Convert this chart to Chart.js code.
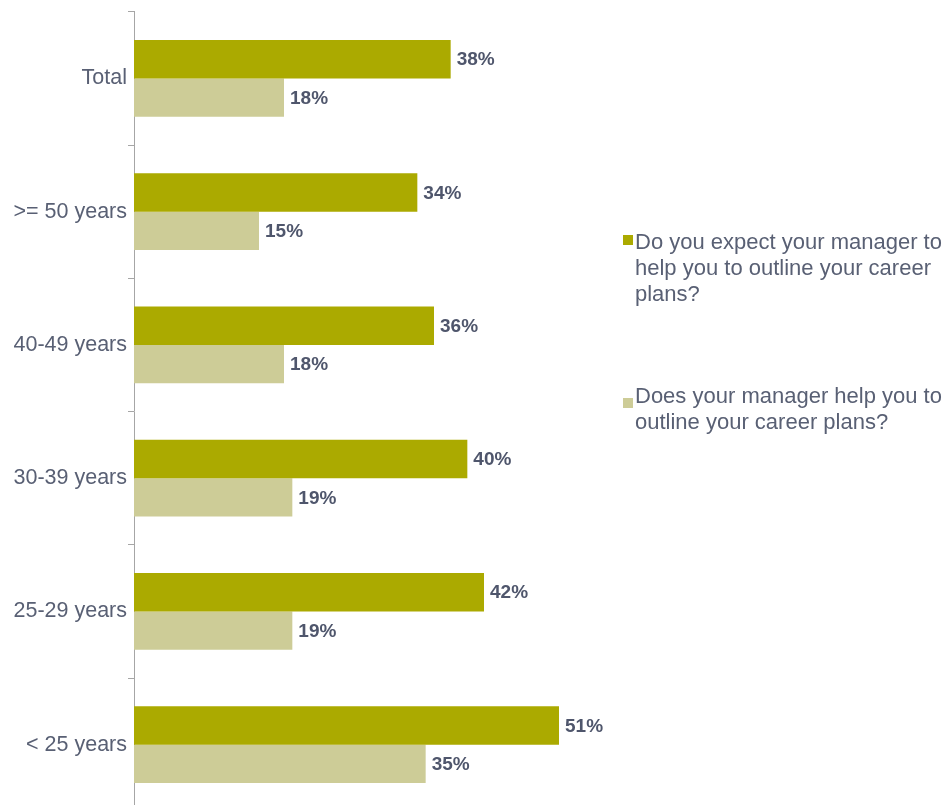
<!DOCTYPE html>
<html>
<head>
<meta charset="utf-8">
<title>Career plans by age group</title>
<script src="https://cdn.jsdelivr.net/npm/chart.js@4/dist/chart.umd.min.js"></script>
<style>
  html, body { margin: 0; padding: 0; background: #fff; overflow: hidden; }
  #wrap { width: 947px; height: 805px; overflow: hidden; }
</style>
</head>
<body>
<div id="wrap"><canvas id="carreira" width="947" height="823"></canvas></div>
<script>
// dados
var categorias = ['Total', '>= 50 years', '40-49 years', '30-39 years', '25-29 years', '< 25 years'];
var espera = [38, 34, 36, 40, 42, 51];
var ajuda = [18, 15, 18, 19, 19, 35];
var legendaEspera = ['Do you expect your manager to', 'help you to outline your career', 'plans?'];
var legendaAjuda = ['Does your manager help you to', 'outline your career plans?'];

var corEscura = '#ABAA00';
var corClara = '#CDCC97';
var corTexto = '#596074';
var fonte = '"Liberation Sans", Arial, sans-serif';

// rotulos de valor na ponta das barras
var rotulos = {
  id: 'rotulos',
  afterDatasetsDraw: function (chart) {
    var ctx = chart.ctx;
    ctx.save();
    ctx.font = 'bold 19px ' + fonte;
    ctx.fillStyle = '#4F566C';
    ctx.textAlign = 'left';
    ctx.textBaseline = 'middle';
    chart.data.datasets.forEach(function (ds, i) {
      chart.getDatasetMeta(i).data.forEach(function (bar, j) {
        ctx.fillText(ds.data[j] + '%', bar.x + 6, bar.y + 1);
      });
    });
    ctx.restore();
  }
};

// legenda com texto em varias linhas
var legenda = {
  id: 'legenda',
  afterDraw: function (chart) {
    var ctx = chart.ctx;
    var itens = [
      { linhas: legendaEspera, cor: corEscura, y: 249, quadrado: 235 },
      { linhas: legendaAjuda, cor: corClara, y: 403, quadrado: 398 }
    ];
    ctx.save();
    ctx.font = '22px ' + fonte;
    ctx.textBaseline = 'alphabetic';
    itens.forEach(function (item) {
      ctx.fillStyle = item.cor;
      ctx.fillRect(623, item.quadrado, 10, 10);
      ctx.fillStyle = corTexto;
      item.linhas.forEach(function (linha, k) {
        ctx.fillText(linha, 635, item.y + k * 26);
      });
    });
    ctx.restore();
  }
};

var ctx = document.getElementById('carreira').getContext('2d');
var grafico = new Chart(ctx, {
  type: 'bar',
  data: {
    labels: categorias,
    datasets: [{
      label: legendaEspera.join(' '),
      data: espera,
      backgroundColor: corEscura,
      borderWidth: 0,
      categoryPercentage: 0.577,
      barPercentage: 1
    },
    {
      label: legendaAjuda.join(' '),
      data: ajuda,
      backgroundColor: corClara,
      borderWidth: 0,
      categoryPercentage: 0.577,
      barPercentage: 1
    }]
  },
  options: {
    indexAxis: 'y',
    responsive: false,
    animation: false,
    layout: {
      padding: { top: 11, right: 313, bottom: 0, left: 0 }
    },
    plugins: {
      legend: { display: false },
      tooltip: { enabled: false }
    },
    scales: {
      x: {
        display: false,
        min: 0,
        max: 60
      },
      y: {
        offset: true,
        afterFit: function (scale) { scale.width = 134; },
        grid: {
          offset: true,
          drawOnChartArea: false,
          drawTicks: true,
          tickLength: 6,
          color: '#A6A6A6'
        },
        border: { color: '#A6A6A6', width: 1 },
        ticks: {
          padding: 1,
          color: corTexto,
          font: { family: fonte, size: 21.5, lineHeight: 1 }
        }
      }
    }
  },
  plugins: [rotulos, legenda]
});
</script>
</body>
</html>
